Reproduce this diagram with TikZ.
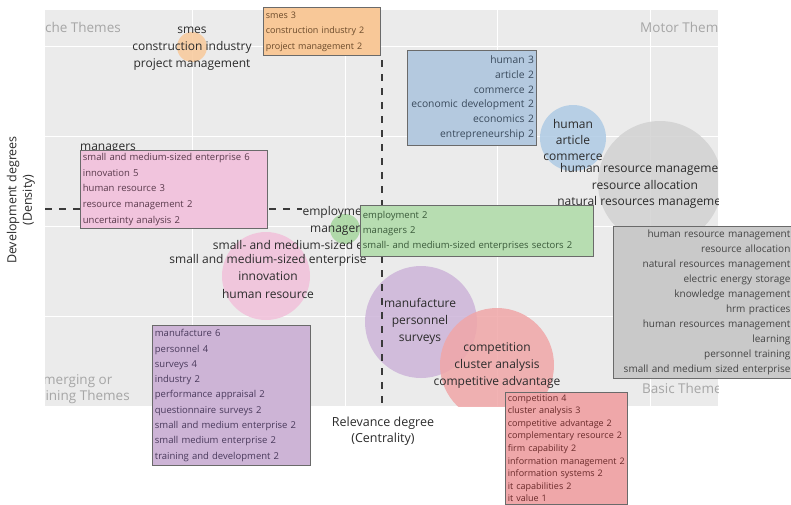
\documentclass[tikz,border=0pt]{standalone}
\usepackage{fontspec}
\setmainfont{Open Sans}
\definecolor{panelbg}{HTML}{EBEBEB}
\definecolor{labtext}{HTML}{2B2B2B}
\definecolor{quadtext}{HTML}{A6A6A6}
\definecolor{reftext}{HTML}{3A3A3A}
\definecolor{boxline}{HTML}{6A6A6A}
\definecolor{orc}{HTML}{F9C99A}
\definecolor{orb}{HTML}{F8C898}
\definecolor{blc}{HTML}{AECBE5}
\definecolor{blb}{HTML}{B4C9DF}
\definecolor{grc}{HTML}{D2D2D2}
\definecolor{grb}{HTML}{C9C9C9}
\definecolor{gnc}{HTML}{A6D69E}
\definecolor{gnb}{HTML}{B7DDB1}
\definecolor{pkc}{HTML}{F2C0DA}
\definecolor{pkb}{HTML}{F1C4DD}
\definecolor{puc}{HTML}{CDB4D9}
\definecolor{pub}{HTML}{CDB4D6}
\definecolor{rdc}{HTML}{F0A6A8}
\definecolor{rdb}{HTML}{EFA7A9}
\definecolor{ort}{HTML}{6B4A2A}
\definecolor{blt}{HTML}{3A4A5C}
\definecolor{pkt}{HTML}{5A3A4C}
\definecolor{gnt}{HTML}{3A5A3A}
\definecolor{grt}{HTML}{444444}
\definecolor{put}{HTML}{4A3A5C}
\definecolor{rdt}{HTML}{6A2A2A}
\begin{document}
\begin{tikzpicture}[x=1pt,y=-1pt,
  lbl/.style={font=\fontsize{12}{17}\selectfont, text=labtext, align=center, inner sep=0pt},
  quad/.style={font=\fontsize{13.5}{16}\selectfont, text=quadtext, inner sep=0pt},
  axl/.style={font=\fontsize{12.5}{15.5}\selectfont, text=labtext, align=center, inner sep=0pt},
  boxl/.style={draw=boxline, line width=0.8pt, inner ysep=0pt, inner xsep=2.5pt, anchor=north west},
  bub/.style={fill opacity=0.85, draw=none},
  gridln/.style={white, line width=1pt},
  refline/.style={dash pattern=on 7pt off 7pt, line width=1.3pt, draw=reftext},
]
\useasboundingbox (0,0) rectangle (791,504);
\fill[white] (0,0) rectangle (791,504);
% panel
\fill[panelbg] (45,10) rectangle (718,406);
\foreach \gx in {192,345,497,650} \draw[gridln] (\gx,10) -- (\gx,406);
\foreach \gy in {46,136,226,316} \draw[gridln] (45,\gy) -- (718,\gy);

\begin{scope}
\clip (45,10) rectangle (718,406);
% bubbles
\fill[bub, grc] (660,183) circle (62);
\fill[bub, blc] (573,138) circle (33);
\fill[bub, orc] (192,47) circle (15);
\fill[bub, gnc] (345,229) circle (15);
\fill[bub, pkc] (266,276) circle (44);
\fill[bub, puc] (421,322) circle (56);
\fill[bub, rdc] (497,365) circle (57);
% quadrant labels
\node[quad, anchor=east] (qniche) at (121,27) {Niche Themes};
\node[quad, anchor=west] (qmotor) at (640,27) {Motor Themes};
\node[quad, anchor=west] (qbasic) at (642,388) {Basic Themes};
\node[quad, align=center] (qemerg) at (74,389) {Emerging or\\Declining Themes};
% bubble labels
\node[lbl] (lor) at (192,49) {smes\\construction industry\\project management};
\node[lbl, font=\fontsize{12}{16}\selectfont] (lbl2) at (573,140) {human\\article\\commerce};
\node[lbl, font=\fontsize{12}{16.5}\selectfont] (lgr) at (645,186) {human resource management\\resource allocation\\natural resources management};
\node[lbl] (lgn) at (338,229) {employment\\managers\\small- and medium-sized enterprises sectors};
\node[lbl, font=\fontsize{12}{17.5}\selectfont] (lpk) at (268,276) {small and medium-sized enterprise\\innovation\\human resource};
\node[lbl] (lpu) at (420,321) {manufacture\\personnel\\surveys};
\node[lbl] (lrd) at (497,366) {competition\\cluster analysis\\competitive advantage};
\node[lbl] (lman) at (108,149) {managers};
\end{scope}

% reference lines
\coordinate (hl) at (45,209);
\coordinate (hr) at (302,209);
\coordinate (vt) at (382,60);
\coordinate (vb) at (382,407);
\draw[refline] (hl) -- (hr);
\draw[refline] (vt) -- (vb);

% boxes
\node[boxl, fill=orb, text=ort, font=\fontsize{9}{15.5}\selectfont, minimum width=117, minimum height=48, text width=112, align=left] (bor) at (263,7) {smes 3\\construction industry 2\\project management 2};
\node[boxl, fill=blb, text=blt, font=\fontsize{10.3}{14.8}\selectfont, minimum width=129, minimum height=95, text width=124, align=right] (bbl) at (407,50) {human 3\\article 2\\commerce 2\\economic development 2\\economics 2\\entrepreneurship 2};
\node[boxl, fill=pkb, text=pkt, font=\fontsize{9.5}{15.7}\selectfont, minimum width=187, minimum height=78, text width=182, align=left] (bpk) at (80,150) {small and medium-sized enterprise 6\\innovation 5\\human resource 3\\resource management 2\\uncertainty analysis 2};
\node[boxl, fill=gnb, text=gnt, font=\fontsize{9.5}{15}\selectfont, minimum width=233, minimum height=51, text width=228, align=left] (bgn) at (360,205) {employment 2\\managers 2\\small- and medium-sized enterprises sectors 2};
\node[boxl, fill=grb, text=grt, font=\fontsize{10}{14.9}\selectfont, minimum width=182, minimum height=152, text width=172, inner xsep=5pt, align=right] (bgr) at (613,226) {human resource management\\resource allocation\\natural resources management\\electric energy storage\\knowledge management\\hrm practices\\human resources management\\learning\\personnel training\\small and medium sized enterprise};
\node[boxl, fill=pub, text=put, font=\fontsize{9.5}{15.3}\selectfont, minimum width=158, minimum height=140, text width=153, align=left] (bpu) at (152,325) {manufacture 6\\personnel 4\\surveys 4\\industry 2\\performance appraisal 2\\questionnaire surveys 2\\small and medium enterprise 2\\small medium enterprise 2\\training and development 2};
\node[boxl, fill=rdb, text=rdt, font=\fontsize{9}{12.6}\selectfont, minimum width=122, text width=117, inner ysep=2pt, align=left] (brd) at (505,392) {competition 4\\cluster analysis 3\\competitive advantage 2\\complementary resource 2\\firm capability 2\\information management 2\\information systems 2\\it capabilities 2\\it value 1};

% axis titles
\node[axl, rotate=90] (yax) at (21,200) {Development degrees\\(Density)};
\node[axl] (xax) at (383,431) {Relevance degree\\(Centrality)};
\end{tikzpicture}
\end{document}
